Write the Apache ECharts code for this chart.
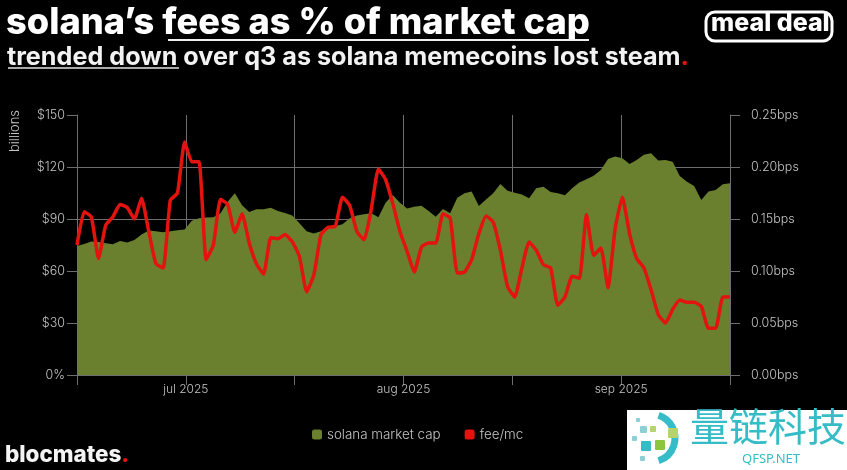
<!DOCTYPE html>
<html>
<head>
<meta charset="utf-8">
<title>solana fees as % of market cap</title>
<script src="https://cdn.jsdelivr.net/npm/echarts@6/dist/echarts.min.js"></script>
<style>
  html, body { margin: 0; padding: 0; background: #000; }
  #main { width: 847px; height: 470px; }
</style>
</head>
<body>
<div id="main"></div>
<script>
// one value per day
const marketCap = [
  74.4, 75.6, 77, 76.7, 76, 75.4, 77.3, 76.5, 77.9, 81,
  83.3, 83, 82.3, 82.9, 83.5, 84, 89, 90.4, 90.8, 91,
  93.3, 100, 104.8, 98, 94, 95.6, 95.6, 96.5, 94.6, 93.5,
  92, 87.5, 83, 81.7, 83, 86, 86, 87, 90.4, 92,
  92.7, 93.3, 91, 99.4, 103.8, 99.4, 96, 97, 97.7, 94.6,
  91.3, 95.8, 93.3, 102.3, 104.8, 105.8, 97.5, 101.3, 104.8, 110.2,
  106.3, 105.2, 104.2, 102, 107.7, 108.6, 105.6, 104.8, 103.7, 107.7,
  111, 113, 115, 118.3, 124.6, 126, 125, 121.7, 124, 127,
  127.9, 123.7, 124, 123, 114.8, 111.5, 109, 101, 105.8, 106.7,
  110, 110.6
];
const feeMc = [
  .125, .157, .152, .112, .144, .152, .164, .161, .150, .170,
  .138, .107, .103, .168, .175, .224, .205, .205, .111, .125,
  .169, .164, .137, .155, .127, .107, .097, .132, .131, .135,
  .128, .114, .080, .096, .135, .142, .143, .171, .163, .138,
  .130, .159, .198, .188, .165, .138, .119, .099, .123, .127,
  .127, .155, .151, .098, .099, .111, .136, .153, .147, .120,
  .085, .075, .103, .128, .120, .106, .103, .067, .075, .095,
  .093, .154, .115, .122, .084, .141, .171, .136, .112, .103,
  .082, .058, .050, .063, .072, .070, .070, .066, .045, .045,
  .075, .075
];
const xTickLabels = ['', 'jul 2025', '', 'aug 2025', '', 'sep 2025', ''];
const usdTicks = ['0%', '$30', '$60', '$90', '$120', '$150'];
const bpsTicks = ['0.00bps', '0.05bps', '0.10bps', '0.15bps', '0.20bps', '0.25bps'];

const GREEN = '#6a802f';
const RED = '#e3130f';
const TEAL = '#35bcc6';
const LABEL = '#c4c4c4';
const LINE = '#6e6e6e';
const FONT = 'Inter, "Noto Sans", sans-serif';

const lastDay = marketCap.length - 1;
const xStep = lastDay / (xTickLabels.length - 1);

function pairs(values) {
  return values.map((v, i) => [i, v]);
}

function square(x, y, s, fill) {
  return { type: 'rect', shape: { x, y, width: s, height: s, r: 1 }, style: { fill } };
}

const chart = echarts.init(document.getElementById('main'), null, { renderer: 'canvas' });
chart.setOption({
  animation: false,
  backgroundColor: '#000',
  textStyle: { fontFamily: FONT },
  grid: { left: 77, right: 117, top: 115, bottom: 95 },
  legend: {
    left: 307, top: 423, itemWidth: 10, itemHeight: 10, itemGap: 24,
    textStyle: { color: LABEL, fontSize: 13.4, fontFamily: FONT, fontWeight: 300 },
    data: [
      { name: 'solana market cap', icon: 'roundRect', itemStyle: { color: GREEN } },
      { name: 'fee/mc', icon: 'roundRect', itemStyle: { color: RED } }
    ]
  },
  xAxis: {
    type: 'value', min: 0, max: lastDay, interval: xStep,
    axisLine: { lineStyle: { color: LINE } },
    axisTick: { length: 10, lineStyle: { color: LINE } },
    axisLabel: {
      color: LABEL, fontSize: 12, margin: 8, fontWeight: 300,
      formatter: v => xTickLabels[Math.round(v / xStep)]
    },
    splitLine: { show: true, lineStyle: { color: LINE } }
  },
  yAxis: [{
    type: 'value', min: 0, max: 150, interval: 30,
    axisLine: { show: true, lineStyle: { color: LINE } },
    axisTick: { show: true, length: 10, lineStyle: { color: LINE } },
    axisLabel: {
      color: LABEL, fontSize: 12.5, margin: 12, fontWeight: 300,
      formatter: v => usdTicks[v / 30]
    },
    // no line across the top, only the tick
    splitLine: { show: true, lineStyle: { color: [LINE, LINE, LINE, LINE, LINE, 'rgba(0,0,0,0)'] } }
  }, {
    type: 'value', min: 0, max: 0.25, interval: 0.05,
    axisLine: { show: true, lineStyle: { color: LINE } },
    axisTick: { show: true, length: 10, lineStyle: { color: LINE } },
    axisLabel: {
      color: LABEL, fontSize: 12.5, margin: 21, fontWeight: 300,
      formatter: v => bpsTicks[Math.round(v / 0.05)]
    },
    splitLine: { show: false }
  }],
  series: [{
    name: 'solana market cap', type: 'line', yAxisIndex: 0,
    data: pairs(marketCap), showSymbol: false,
    lineStyle: { width: 0 }, itemStyle: { color: GREEN },
    areaStyle: { color: GREEN, opacity: 1 }
  }, {
    name: 'fee/mc', type: 'line', yAxisIndex: 1,
    data: pairs(feeMc), showSymbol: false, smooth: 0.15,
    lineStyle: { width: 3.5, color: RED, join: 'round' }, itemStyle: { color: RED }
  }],
  graphic: [
    { type: 'text', left: 6, top: 5, style: {
      text: 'solana\u2019s fees as % of market cap', fill: '#fff', fontFamily: FONT, fontWeight: 800, fontSize: 36.2 } },
    { type: 'rect', shape: { x: 168, y: 39, width: 421, height: 2 }, style: { fill: '#eee' } },
    { type: 'text', left: 7, top: 45, style: {
      rich: {
        a: { fill: '#f2f2f2', fontFamily: FONT, fontWeight: 700, fontSize: 25.2 },
        r: { fill: RED, fontFamily: FONT, fontWeight: 700, fontSize: 25.2 }
      },
      text: '{a|trended down over q3 as solana memecoins lost steam}{r|.}' } },
    { type: 'rect', shape: { x: 8, y: 67, width: 171, height: 2 }, style: { fill: '#aaa' } },
    { type: 'rect', shape: { x: 706, y: 12, width: 126, height: 29, r: 9 },
      style: { fill: '#000', stroke: '#fff', lineWidth: 3 } },
    { type: 'text', left: 711, top: 11, style: {
      text: 'meal deal', fill: '#fff', fontFamily: FONT, fontWeight: 800, fontSize: 25 } },
    { type: 'text', x: 9, y: 152, rotation: Math.PI / 2, style: {
      text: 'billions', fill: LABEL, fontFamily: FONT, fontWeight: 300, fontSize: 13 } },
    { type: 'text', left: 5, top: 444, style: {
      rich: {
        a: { fill: '#f4f4f4', fontFamily: FONT, fontWeight: 800, fontSize: 22.4 },
        r: { fill: RED, fontFamily: FONT, fontWeight: 800, fontSize: 22.4 }
      },
      text: '{a|blocmates}{r|.}' } },
    // watermark in the bottom right corner
    { type: 'rect', shape: { x: 627, y: 410, width: 220, height: 60 }, style: { fill: '#fff' } },
    { type: 'arc', shape: { cx: 651, cy: 438, r: 24, startAngle: -1.25, endAngle: 1.25 },
      style: { stroke: TEAL, lineWidth: 7, fill: 'none' } },
    { type: 'group', children: [
      square(668, 428, 10, '#b5d56a'),
      square(655, 440, 10, '#8cc63f'),
      square(641, 441, 10, TEAL),
      square(640, 426, 7, '#8ccfd4'),
      square(650, 426, 6, '#b5d56a'),
      square(632, 436, 5, '#8ccfd4'),
      square(640, 456, 5, '#8ccfd4'),
      square(636, 418, 4, '#8ccfd4')
    ] },
    { type: 'text', left: 690, top: 407, style: {
      text: '量链科技', fill: TEAL, fontFamily: '"Noto Sans CJK SC"', fontSize: 39 } },
    { type: 'text', left: 742, top: 453, style: {
      text: 'QFSP.NET', fill: TEAL, fontFamily: '"Noto Sans", sans-serif', fontSize: 13 } }
  ]
});
</script>
</body>
</html>
